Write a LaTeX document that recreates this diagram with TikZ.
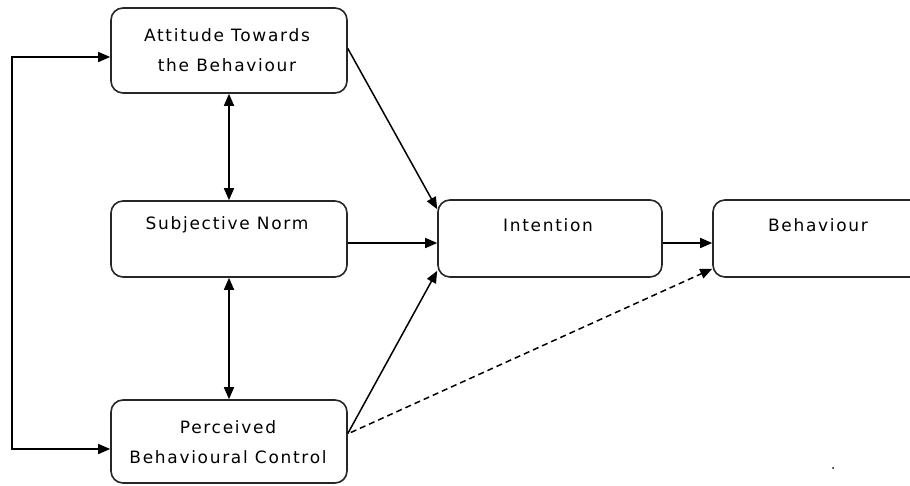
\documentclass[tikz,border=0pt]{standalone}
\usepackage{fontspec}
\newfontfamily\diafont[LetterSpace=10]{DejaVu Sans}
\usetikzlibrary{arrows.meta,calc}
\begin{document}
\begin{tikzpicture}[x=1pt,y=-1pt,
  box/.style={draw=black!85, line width=1.6pt, rounded corners=12pt, inner sep=0pt},
  txt/.style={font=\diafont\fontsize{17}{30}\selectfont, align=center, inner sep=0pt},
  arr/.style={line width=1.5pt, -{Triangle[length=12pt,width=10pt]}},
  darr/.style={line width=1.5pt, {Triangle[length=12pt,width=10pt]}-{Triangle[length=12pt,width=10pt]}}
]
\clip (0,0) rectangle (910,485);
\fill[white] (0,0) rectangle (910,485);
% boxes
\node[box, minimum width=236pt, minimum height=85pt] (att) at (229,50.5) {};
\node[box, minimum width=236pt, minimum height=76pt] (sn) at (229,239) {};
\node[box, minimum width=236pt, minimum height=83pt] (pbc) at (229,441.5) {};
\node[box, minimum width=224pt, minimum height=77pt] (int) at (550,238.5) {};
\node[box, minimum width=212pt, minimum height=77pt] (beh) at (819,238.5) {};
% texts
\node[txt] (attT) at (227,50) {Attitude Towards\\the Behaviour};
\node[txt] (snT) at (227,225) {Subjective Norm};
\node[txt] (pbcT) at (228,442.5) {Perceived\\Behavioural Control};
\node[txt] (intT) at (548,225) {Intention};
\node[txt] (behT) at (818,225) {Behaviour};
% connectors
\draw[darr] (att.south) -- (sn.north);
\draw[darr] (sn.south) -- (pbc.north);
\coordinate (lp) at (12,250);
\draw[darr] ($(att.west)+(0,6.5)$) -| (lp) |- ($(pbc.west)+(0,7.5)$);
\draw[arr] ($(att.east)+(0,-2)$) -- ($(int.north west)+(0,10)$);
\draw[arr] ($(sn.east)+(0,4)$) -- ($(int.west)+(0,4.5)$);
\draw[arr] ($(pbc.east)+(0,-8)$) -- ($(int.south west)+(0,-7)$);
\draw[arr] ($(int.east)+(0,4.5)$) -- ($(beh.west)+(0,4.5)$);
\draw[arr, dashed, dash pattern=on 6pt off 4pt] ($(pbc.east)+(3,-9)$) -- ($(beh.south west)+(0,-9)$);
\node[circle, fill=black, inner sep=0pt, minimum size=2pt] (dot) at (833,468) {};
\end{tikzpicture}
\end{document}
